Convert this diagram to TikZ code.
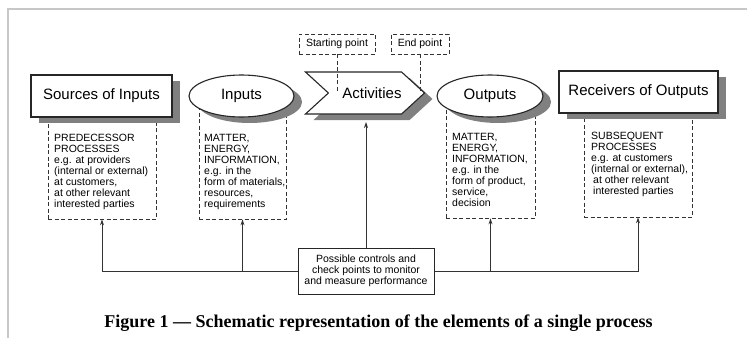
\documentclass[tikz,border=0pt]{standalone}
\usepackage{fontspec}
\setmainfont{Liberation Sans}
\newfontfamily\capfont{Liberation Serif}
\usetikzlibrary{shapes.geometric,shapes.symbols,shadows,arrows.meta}
\begin{document}
\begin{tikzpicture}[x=1pt,y=-1pt,
 ink/.style={draw=black!85, line width=1.1pt},
 shad/.style={drop shadow={shadow xshift=8pt, shadow yshift=-6pt, fill=black!50, opacity=1}},
 mainbox/.style={ink, fill=white, shad, inner sep=0pt, font=\fontsize{15}{18}\selectfont},
 dbox/.style={draw=black!80, dash pattern=on 4pt off 2.5pt, line width=0.7pt, inner sep=0pt},
 note/.style={font=\fontsize{10.5}{11}\selectfont, align=left, inner sep=0pt, anchor=north west},
 conn/.style={draw=black!80, line width=0.9pt},
 arr/.style={conn, -{Stealth[length=6pt,width=4pt]}}
]
\useasboundingbox (0,0) rectangle (747,338);
\fill[white] (0,0) rectangle (747,338);
\draw[draw=black!22, line width=1.5pt] (8,338) -- (8,9) -- (747,9);

% dashed description boxes
\node[dbox, minimum width=108pt, minimum height=102pt] (srcd) at (102,168) {};
\node[dbox, minimum width=87pt, minimum height=119pt] (inpd) at (242.5,159.5) {};
\node[dbox, minimum width=89pt, minimum height=118pt] (outd) at (490.5,159) {};
\node[dbox, minimum width=108pt, minimum height=104pt] (rcvd) at (638,165) {};

\node[note] (srct) at (54,134) {PREDECESSOR\\PROCESSES\\e.g. at providers\\(internal or external)\\at customers,\\at other relevant\\interested parties};
\node[note] (inpt) at (204,134) {MATTER,\\ENERGY,\\INFORMATION,\\e.g. in the\\form of materials,\\resources,\\requirements};
\node[note] (outt) at (452,133) {MATTER,\\ENERGY,\\INFORMATION,\\e.g. in the\\form of product,\\service,\\decision};
\node[note] (rcvt) at (591,132) {SUBSEQUENT\\PROCESSES\\e.g. at customers\\(internal or external),\\\hspace{2pt}at other relevant\\\hspace{2pt}interested parties};

% start / end point
\node[dbox, minimum width=76pt, minimum height=20pt, font=\fontsize{10.5}{11}\selectfont] (sp) at (337,44) {Starting point};
\node[dbox, minimum width=58pt, minimum height=20pt, font=\fontsize{10.5}{11}\selectfont] (ep) at (420,44) {End point};

% main elements
\node[rectangle, mainbox, minimum width=141pt, minimum height=42pt] (src) at (101.5,96) {Sources of Inputs};
\node[ellipse, mainbox, minimum width=105pt, minimum height=42pt] (inp) at (241.5,96) {Inputs};
\node[signal, signal from=west, signal to=east, signal pointer angle=85, mainbox, minimum width=108pt, minimum height=42pt] (act) at (365,93) {\hspace{14pt}Activities};
\node[ellipse, mainbox, minimum width=106pt, minimum height=42pt] (outp) at (490,96) {Outputs};
\node[rectangle, mainbox, minimum width=159pt, minimum height=42pt] (rcv) at (638.5,92) {Receivers of Outputs};

\draw[dbox] (sp.south) -- (sp.south |- act.center);
\draw[dbox] (ep.south) -- (ep.south |- act.east);

% controls
\node[ink, line width=1pt, fill=white, align=center, inner sep=0pt, minimum width=136pt, minimum height=46pt, font=\fontsize{10.5}{11}\selectfont] (ctl) at (366,271) {Possible controls and\\check points to monitor\\and measure performance};
\coordinate (actb) at (366,122);

\draw[arr] (ctl.west) -| (srcd.south);
\draw[arr] (ctl.west -| inpd.south) -- (inpd.south);
\draw[arr] (ctl.east) -| (rcvd.south);
\draw[arr] (ctl.east -| outd.south) -- (outd.south);
\draw[arr] (ctl.north) -- (actb);

\node[font=\capfont\bfseries\fontsize{18}{20}\selectfont, inner sep=0pt] (cap) at (378.5,323) {Figure 1 — Schematic representation of the elements of a single process};
\end{tikzpicture}
\end{document}
